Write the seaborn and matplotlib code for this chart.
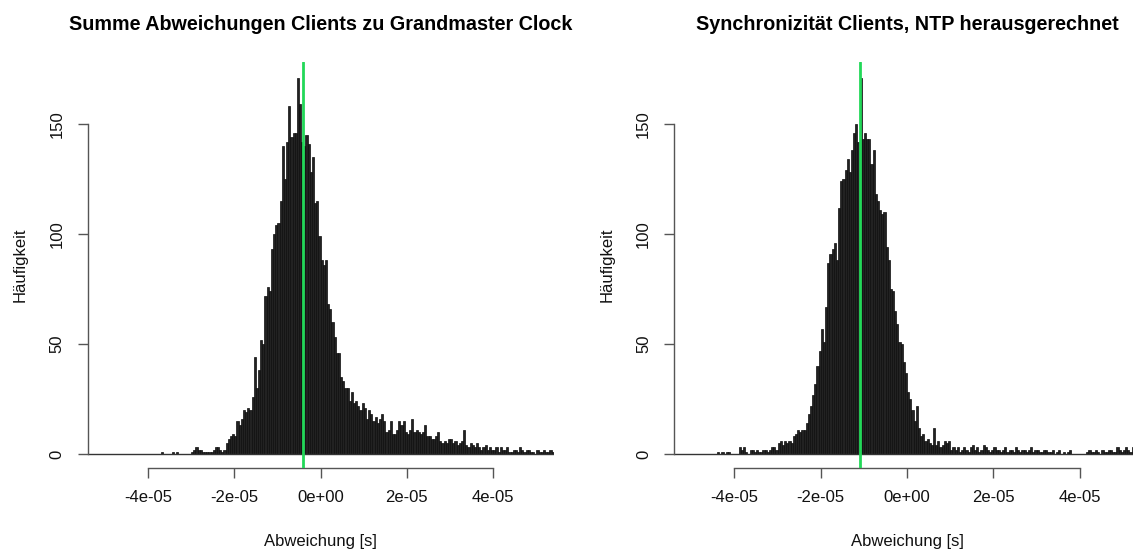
import numpy as np
import pandas as pd
import matplotlib
matplotlib.use("Agg")
import matplotlib.pyplot as plt
import seaborn as sns

# ---------------- data ----------------
bin_width = 5e-7

left_title = "Summe Abweichungen Clients zu Grandmaster Clock"
left_start = -37e-6
left_counts = [
    1, 0,   0, 0,   0, 1,   0, 1,   0, 0,   0, 0,   0, 0,            # -37 .. -31
    1, 2,   3, 2,   2, 1,   1, 1,   1, 1,   2, 3,   3, 2,   1, 2,    # -30 .. -23
    5, 7,   8, 9,   8, 15,  13, 16, 20, 19, 21, 20, 26, 44, 30, 38,  # -22 .. -15
    52, 50, 72, 76, 74, 93, 100, 104, 105, 115, 140, 125, 142, 158, 144, 146,  # -14 .. -7
    146, 171, 159, 142, 140, 145, 141, 128, 135, 114, 115, 99,       # -6 .. -1
    88, 86, 88, 68, 66, 60, 53, 46, 46, 35, 33, 30, 30, 24, 28, 23,  # 0 .. 7
    24, 22, 20, 23, 21, 16, 20, 18, 15, 17, 14, 16, 18, 15, 10, 11,  # 8 .. 15
    15, 9,  9, 11, 15, 13, 15, 10, 9, 11, 16, 10, 11, 10, 9, 10,     # 16 .. 23
    13, 8,  8, 7,  7, 8,  10, 6,  5, 6,  5, 7,  7, 5,  6, 4,          # 24 .. 31
    5, 6,   11, 4,  3, 5,  4, 3,  5, 3,  2, 3,  4, 2,  3, 2,          # 32 .. 39
    2, 3,   1, 3,   2, 2,  3, 1,  1, 2,  2, 1,  3, 2,  1, 2,          # 40 .. 47
    2, 1,   1, 0,   2, 1,  1, 2,  1, 1,  2, 1,                        # 48 .. 53
]
left_marker = -4.1e-6

right_title = "Synchronizität Clients, NTP herausgerechnet"
right_start = -44e-6
right_counts = [
    1, 0,   1, 0,   1, 1,   0, 0,   0, 0,   3, 2,   3, 1,   0, 2,    # -44 .. -37
    2, 1,   2, 1,   1, 2,   2, 1,   2, 3,   3, 2,   5, 6,   4, 6,    # -36 .. -29
    5, 6,   5, 8,   9, 11,  10, 11, 11, 14, 18, 22, 27, 32, 40, 47,  # -28 .. -21
    57, 51, 67, 87, 91, 93, 96, 88, 112, 124, 125, 129, 134, 128, 138, 146,  # -20 .. -13
    150, 142, 171, 143, 146, 143, 143, 132, 138, 118, 115, 111, 109, 110, 94, 88,  # -12 .. -5
    75, 74, 65, 59, 51, 50, 42, 37,                                  # -4 .. -1
    28, 25, 20, 15, 22, 12, 8, 9, 6, 7, 5, 4, 12, 4, 6, 3,           # 0 .. 7
    4, 6,   5, 6,   2, 3,   2, 3,   1, 2,   3, 2,   1, 3,   4, 2,    # 8 .. 15
    3, 1,   2, 4,   3, 2,   1, 2,   3, 2,   2, 1,   2, 3,   1, 2,    # 16 .. 23
    2, 1,   3, 2,   1, 2,   2, 1,   2, 3,   1, 2,   2, 1,   1, 2,    # 24 .. 31
    2, 1,   1, 2,   0, 1,   2, 0,   1, 0,   1, 2,   0, 0,   0, 0,    # 32 .. 39
    0, 0,   0, 1,   2, 1,   1, 2,   1, 0,   2, 1,   1, 2,   2, 1,    # 40 .. 47
    1, 3,   2, 1,   2, 3,   2, 1,   3, 2,   2, 1,                    # 48 .. 53
]
right_marker = -1.1e-5

x_ticks = [-4e-5, -2e-5, 0, 2e-5, 4e-5]
x_tick_labels = ["-4e-05", "-2e-05", "0e+00", "2e-05", "4e-05"]
y_ticks = [0, 50, 100, 150]
x_label = "Abweichung [s]"
y_label = "Häufigkeit"

# ---------------- style ----------------
sns.set_style("white")
plt.rcParams["font.family"] = ["Liberation Sans", "DejaVu Sans"]

W, H = 1133, 549
fig = plt.figure(figsize=(W / 100, H / 100), dpi=100)

axis_col = "#555555"
bar_face = "#222222"
bar_edge = "#0d0d0d"
green = "#22d858"


def px_box(x0, x1, ytop, ybot):
    return [x0 / W, 1 - ybot / H, (x1 - x0) / W, (ybot - ytop) / H]


def draw(ax, counts, start, marker, title):
    n = len(counts)
    edges = start + np.arange(n + 1) * bin_width
    df = pd.DataFrame({"x": edges[:-1] + bin_width / 2,
                       "w": np.asarray(counts, dtype=float)})
    sns.histplot(data=df, x="x", weights="w", bins=list(edges), ax=ax,
                 color=bar_face, edgecolor=bar_edge, linewidth=0.5,
                 alpha=1.0, stat="count")
    ax.axhline(0, color="#333333", lw=1.0, zorder=1)
    ax.axvline(marker, color=green, lw=2.0, zorder=5)
    ax.set_xlim(-5.4e-5, 5.4e-5)
    ax.set_ylim(-6.4, 178.2)
    for s in ["top", "right"]:
        ax.spines[s].set_visible(False)
    for s in ["left", "bottom"]:
        ax.spines[s].set_color(axis_col)
        ax.spines[s].set_linewidth(1.0)
    ax.spines["left"].set_bounds(0, 150)
    ax.spines["bottom"].set_bounds(-4e-5, 4e-5)
    ax.set_xticks(x_ticks)
    ax.set_xticklabels(x_tick_labels)
    ax.set_yticks(y_ticks)
    ax.set_yticklabels([str(v) for v in y_ticks], rotation=90, va="center")
    ax.tick_params(axis="both", direction="out", length=7.5, width=1.0,
                   color=axis_col, labelsize=12, labelcolor="#111111", pad=8,
                   bottom=True, left=True)
    ax.tick_params(axis="y", pad=9)
    ax.set_xlabel(x_label, fontsize=12, color="#111111", labelpad=21)
    ax.set_ylabel(y_label, fontsize=12, color="#111111", labelpad=15.5)
    ax.set_title(title, fontsize=14.2, fontweight="bold", pad=23, color="#000000")
    ax.grid(False)


ax1 = fig.add_axes(px_box(87.5, 553.7, 62, 468))
draw(ax1, left_counts, left_start, left_marker, left_title)

ax2 = fig.add_axes(px_box(674, 1140.2, 62, 468))
draw(ax2, right_counts, right_start, right_marker, right_title)

fig.savefig("out.png", dpi=100)
